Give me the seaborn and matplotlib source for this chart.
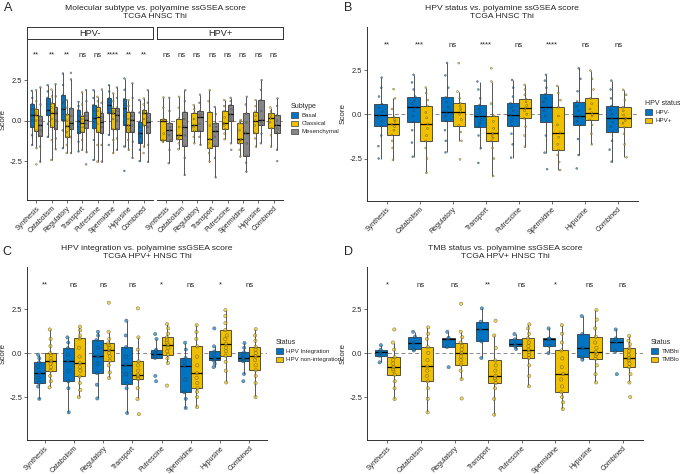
import seaborn as sns
import numpy as np
import pandas as pd
import matplotlib.pyplot as plt
from matplotlib.patches import Patch

cats = ['Synthesis', 'Catabolism', 'Regulatory', 'Transport',
        'Putrescine', 'Spermidine', 'Hypusine', 'Combined']

# ---- panel A: molecular subtype, faceted by HPV status ----
a_neg_basal = [
    [-1.5, -0.9, -0.37, 0.0, 0.35, 0.7, 1.02, 1.4, 1.84],
    [-1.0, -0.2, 0.35, 0.5, 0.66, 1.0, 1.41, 1.8, 2.19],
    [-1.7, -0.6, 0.04, 0.4, 0.7, 1.1, 1.57, 2.2, 2.91],
    [-1.9, -1.3, -0.78, -0.4, -0.04, 0.3, 0.65, 0.9, 1.16],
    [-2.43, -1.2, -0.47, -0.1, 0.14, 0.6, 0.96, 1.4, 1.88],
    [-1.5, -0.88, 0.45, 0.7, 0.95, 1.15, 1.37, 1.8, 2.19],
    [-3.1, -1.6, -0.27, 0.3, 0.76, 1.0, 1.33, 1.9, 2.6],
    [-2.5, -1.8, -1.36, -1.0, -0.78, -0.4, -0.06, 0.5, 1.27],
]
a_neg_classical = [
    [-2.7, -1.7, -0.62, 0.0, 0.35, 0.5, 0.71, 1.2, 1.88],
    [-2.43, -1.2, -0.37, 0.1, 0.49, 0.8, 1.06, 1.5, 1.92],
    [-2.0, -1.5, -1.03, -0.7, -0.33, 0.0, 0.38, 0.8, 1.27],
    [-1.8, -1.2, -0.68, -0.4, -0.12, 0.1, 0.3, 1.0, 1.75],
    [-2.53, -1.5, -0.68, -0.2, 0.25, 0.6, 0.85, 1.2, 1.47],
    [-2.0, -1.2, -0.53, 0.1, 0.45, 0.6, 0.81, 1.2, 1.68],
    [-1.8, -1.2, -0.68, -0.5, -0.3, 0.1, 0.55, 0.9, 1.27],
    [-2.0, -1.6, -0.3, 0.1, 0.45, 0.55, 0.65, 1.0, 1.37],
]
a_neg_mesen = [
    [-2.53, -1.6, -0.95, -0.6, -0.27, 0.0, 0.28, 1.0, 2.05],
    [-1.77, -1.1, -0.53, 0.0, 0.45, 0.6, 0.85, 1.5, 2.25],
    [-2.0, -1.0, -0.49, -0.3, -0.12, 0.3, 0.75, 2.55, 2.95],
    [-2.7, -1.95, -0.47, -0.2, 0.04, 0.3, 0.55, 1.2, 1.88],
    [-2.53, -1.5, -0.75, -0.4, -0.06, 0.2, 0.49, 1.1, 1.92],
    [-1.8, -1.1, -0.53, 0.0, 0.35, 0.6, 0.81, 1.4, 2.05],
    [-2.3, -1.3, -0.68, -0.3, 0.04, 0.3, 0.55, 1.4, 2.3],
    [-2.55, -1.5, -0.78, -0.4, -0.06, 0.2, 0.45, 1.1, 1.88],
]
a_pos_classical = [
    [-1.3, -1.25, -1.2, -0.8, 0.0, 0.05, 0.1, 0.8, 1.43],
    [-1.77, -1.4, -1.15, -1.0, -0.88, -0.4, 0.13, 0.8, 1.47],
    [-1.4, -1.0, -0.62, -0.4, -0.27, 0.1, 0.49, 0.7, 0.96],
    [-2.53, -2.0, -1.71, -1.4, -1.15, -0.3, 0.55, 1.2, 1.88],
    [-1.15, -0.8, -0.53, -0.3, -0.16, 0.2, 0.59, 0.9, 1.27],
    [-2.22, -1.8, -1.4, -1.25, -1.15, -0.6, -0.16, -0.05, 0.04],
    [-1.6, -1.1, -0.78, -0.3, 0.0, 0.3, 0.55, 0.9, 1.27],
    [-1.6, -0.9, -0.47, -0.1, 0.14, 0.3, 0.45, 0.6, 0.81],
]
a_pos_mesen = [
    [-2.63, -1.8, -1.23, -0.9, -0.58, -0.4, -0.16, 0.6, 1.41],
    [-3.35, -2.3, -1.56, -0.9, -0.37, 0.1, 0.55, 1.2, 1.88],
    [-1.5, -1.0, -0.62, -0.2, 0.25, 0.4, 0.6, 1.1, 1.6],
    [-3.5, -2.3, -1.56, -1.0, -0.62, -0.4, -0.16, 0.4, 0.85],
    [-1.8, -1.4, 0.0, 0.2, 0.4, 0.7, 0.97, 1.2, 1.41],
    [-3.15, -2.6, -2.18, -1.4, -0.74, -0.1, 0.45, 1.0, 1.47],
    [-1.4, -0.8, -0.27, -0.1, 0.04, 0.6, 1.27, 1.9, 2.5],
    [-2.5, -1.8, -0.74, -0.5, -0.27, 0.0, 0.34, 0.9, 1.37],
]
a_neg_sig = ['**', '**', '**', 'ns', 'ns', '****', '**', '**']
a_pos_sig = ['ns'] * 8

# ---- panel B: HPV status ----
b_neg = [
    [-2.5, -1.8, -1.2, -0.66, -0.4, -0.2, -0.04, 0.15, 0.35, 0.58, 1.0, 1.5, 2.07],
    [-2.4, -1.6, -0.9, -0.43, -0.1, 0.2, 0.43, 0.6, 0.8, 1.0, 1.4, 1.8, 2.23],
    [-2.15, -1.5, -0.9, -0.38, -0.15, 0.0, 0.15, 0.4, 0.7, 0.95, 1.5, 2.2, 2.9],
    [-2.75, -1.92, -1.2, -0.7, -0.5, -0.3, -0.08, 0.1, 0.3, 0.53, 0.9, 1.4, 1.85],
    [-2.45, -1.7, -1.1, -0.66, -0.4, -0.2, -0.04, 0.2, 0.4, 0.62, 1.0, 1.5, 1.94],
    [-3.1, -2.17, -1.2, -0.42, -0.1, 0.2, 0.43, 0.7, 0.9, 1.13, 1.5, 1.9, 2.23],
    [-3.06, -2.3, -1.4, -0.6, -0.4, -0.2, -0.08, 0.2, 0.45, 0.72, 1.3, 2.0, 2.6],
    [-2.68, -2.0, -1.5, -0.98, -0.7, -0.45, -0.23, 0.0, 0.25, 0.47, 0.9, 1.4, 1.9],
]
b_pos = [
    [-2.58, -1.9, -1.5, -1.17, -0.9, -0.7, -0.57, -0.4, -0.3, -0.15, 0.3, 0.9, 1.42],
    [-3.3, -2.5, -1.9, -1.51, -1.2, -0.8, -0.55, -0.2, 0.1, 0.47, 0.8, 1.2, 1.51],
    [-2.55, -1.5, -1.0, -0.64, -0.3, 0.0, 0.15, 0.3, 0.45, 0.62, 0.9, 1.28, 2.89],
    [-3.49, -2.5, -1.9, -1.51, -1.35, -1.2, -1.08, -0.8, -0.4, -0.1, 0.6, 1.85, 2.6],
    [-1.83, -1.2, -0.7, -0.23, 0.0, 0.2, 0.34, 0.5, 0.7, 0.87, 1.1, 1.4, 1.66],
    [-3.15, -2.7, -2.3, -2.02, -1.7, -1.3, -1.04, -0.6, -0.1, 0.4, 0.8, 1.2, 1.6],
    [-1.7, -1.1, -0.6, -0.32, -0.1, 0.0, 0.09, 0.3, 0.6, 0.9, 1.4, 2.0, 2.47],
    [-2.43, -1.7, -1.1, -0.74, -0.5, -0.35, -0.23, -0.05, 0.2, 0.4, 0.8, 1.1, 1.38],
]
b_sig = ['**', '***', 'ns', '****', 'ns', '****', 'ns', 'ns']

# ---- panel C: HPV integration ----
c_int = [
    [-2.6, -1.9, -1.7, -1.4, -1.14, -0.8, -0.53, -0.3, -0.1],
    [-3.37, -2.0, -1.61, -1.0, -0.47, -0.1, 0.28, 0.6, 0.89],
    [-2.58, -1.8, -1.14, -0.6, -0.19, 0.3, 0.74, 1.0, 1.21],
    [-3.41, -2.0, -1.74, -1.2, -0.66, -0.2, 0.34, 1.0, 1.84],
    [-1.6, -1.3, -0.28, -0.15, -0.04, 0.1, 0.19, 0.8, 1.08],
    [-3.12, -2.6, -2.23, -1.5, -0.72, -0.5, -0.28, 0.2, 0.59],
    [-0.8, -0.6, -0.42, -0.35, -0.28, -0.1, 0.09, 0.38, 1.4],
    [-1.6, -1.19, -0.47, -0.35, -0.28, -0.1, 0.04, 0.3, 0.57],
]
c_nonint = [
    [-1.95, -1.6, -1.3, -1.0, -0.8, -0.6, -0.47, -0.3, -0.1, 0.0, 0.4, 0.8, 1.34],
    [-2.5, -2.1, -1.7, -1.33, -1.0, -0.8, -0.57, -0.2, 0.3, 0.83, 1.0, 1.3, 1.5],
    [-1.42, -1.1, -0.7, -0.44, -0.2, 0.0, 0.19, 0.3, 0.45, 0.55, 0.8, 1.21, 2.86],
    [-3.47, -2.61, -2.0, -1.48, -1.4, -1.3, -1.23, -1.0, -0.7, -0.47, 0.2, 0.89, 2.54],
    [-1.85, -0.57, -0.3, -0.09, 0.1, 0.3, 0.47, 0.6, 0.75, 0.89, 1.1, 1.4, 1.65],
    [-3.07, -2.5, -2.2, -1.99, -1.7, -1.4, -1.14, -0.7, -0.2, 0.38, 0.8, 1.2, 1.59],
    [-1.67, -1.0, -0.5, -0.15, 0.1, 0.3, 0.53, 0.8, 1.0, 1.31, 1.7, 2.1, 2.44],
    [-2.5, -1.7, -1.3, -0.98, -0.7, -0.4, -0.19, 0.0, 0.2, 0.36, 0.7, 1.0, 1.36],
]
c_sig = ['**', 'ns', 'ns', 'ns', '*', 'ns', '*', 'ns']

# ---- panel D: TMB status ----
d_hi = [
    [-0.53, -0.15, 0.04, 0.19, 0.45],
    [0.15, 0.23, 0.55, 0.93, 1.21],
    [-0.8, 0.34, 0.78, 0.87, 1.21],
    [-0.28, 0.66, 1.34, 1.78, 2.54],
    [0.23, 0.38, 0.49, 0.78, 1.08],
    [0.0, 0.42, 0.8, 0.83, 1.4],
    [-0.38, -0.23, 0.28, 1.08, 2.1],
    [-1.2, 0.09, 0.64, 0.83, 1.34],
]
d_lo = [
    [-2.61, -2.0, -1.6, -1.23, -1.0, -0.9, -0.8, -0.6, -0.4, -0.23, 0.2, 0.6, 1.34],
    [-3.37, -2.6, -2.0, -1.61, -1.3, -1.0, -0.76, -0.4, 0.0, 0.34, 0.8, 1.1, 1.46],
    [-2.58, -1.48, -1.0, -0.66, -0.4, -0.2, 0.0, 0.2, 0.4, 0.6, 0.9, 1.21, 2.8],
    [-3.5, -2.6, -2.0, -1.7, -1.5, -1.4, -1.29, -1.0, -0.7, -0.42, 0.3, 1.0, 1.84],
    [-1.89, -1.3, -0.7, -0.28, -0.1, 0.05, 0.19, 0.4, 0.6, 0.83, 1.1, 1.4, 1.63],
    [-3.18, -2.8, -2.5, -2.23, -1.9, -1.5, -1.19, -0.8, -0.3, 0.15, 0.6, 1.1, 1.59],
    [-1.67, -1.2, -0.7, -0.32, -0.15, -0.05, 0.06, 0.3, 0.6, 0.93, 1.4, 1.9, 2.44],
    [-2.5, -1.67, -1.2, -0.8, -0.6, -0.4, -0.28, -0.1, 0.1, 0.28, 0.5, 0.7, 0.97],
]
d_sig = ['*', 'ns', 'ns', '**', 'ns', '*', 'ns', 'ns']

BLUE, YELLOW, GREY = '#0073C2', '#EFC000', '#868686'

sns.set_style('ticks')
plt.rcParams['font.family'] = ['Liberation Sans', 'DejaVu Sans']
plt.rcParams['axes.linewidth'] = 0.7
plt.rcParams['axes.edgecolor'] = '#333333'

W, H = 680, 474
fig = plt.figure(figsize=(W / 100, H / 100), dpi=100)


def px_axes(l, t, r, b):
    return fig.add_axes([l / W, 1 - b / H, (r - l) / W, (b - t) / H])


def long_df(groups, names):
    rows = []
    for name, lists in zip(names, groups):
        for cat, vals in zip(cats, lists):
            for v in vals:
                rows.append((cat, name, v))
    return pd.DataFrame(rows, columns=['Pathway', 'Group', 'Score'])


def draw(ax, groups, names, colors, ylim, sig, sig_y, pt_size, jitter, left=True):
    df = long_df(groups, names)
    pal = dict(zip(names, colors))
    ax.axhline(0, color='#8a8a8a', lw=0.7, ls=(0, (4, 3)), zorder=0)
    sns.boxplot(data=df, x='Pathway', y='Score', hue='Group', order=cats,
                hue_order=names, palette=pal, width=0.75, whis=1.5,
                showfliers=False, showcaps=False, linewidth=0.6,
                linecolor='#3a3a3a', saturation=1,
                medianprops=dict(color='black', linewidth=0.9),
                legend=False, ax=ax)
    sns.stripplot(data=df, x='Pathway', y='Score', hue='Group', order=cats,
                  hue_order=names, palette=pal, dodge=True, jitter=jitter,
                  size=pt_size, linewidth=0.35, edgecolor='#333333',
                  alpha=0.65, legend=False, ax=ax)
    ax.set_xlim(-0.6, 7.6)
    ax.set_ylim(*ylim)
    ax.set_yticks([-2.5, 0, 2.5])
    ax.set_yticklabels(['-2.5', '0.0', '2.5'])
    ax.set_xlabel('')
    ax.set_ylabel('Score' if left else '', fontsize=5.8, labelpad=2)
    sns.despine(ax=ax)
    ax.tick_params(axis='both', length=2, width=0.5, pad=1.5, labelsize=5.0,
                   color='#333333')
    ax.tick_params(axis='y', labelsize=5.4)
    ax.set_xticks(range(len(cats)))
    ax.set_xticklabels(cats, rotation=45, ha='right', va='top',
                       rotation_mode='anchor')
    if not left:
        ax.spines['left'].set_visible(False)
        ax.tick_params(axis='y', left=False, labelleft=False)
    for i, s in enumerate(sig):
        ax.text(i, sig_y, s, ha='center', va='center', fontsize=5.5, color='#222222')


def legend(ax, x, y, title, labels, colors):
    handles = [Patch(facecolor=c, edgecolor='#3a3a3a', linewidth=0.5) for c in colors]
    ax.legend(handles, labels, title=title, loc='upper left',
              bbox_to_anchor=(x / W, 1 - y / H), bbox_transform=fig.transFigure,
              frameon=False, fontsize=4.4, title_fontsize=5.0, borderpad=0,
              borderaxespad=0, handlelength=1.2, handleheight=0.9,
              handletextpad=0.5, labelspacing=0.4, alignment='left')


def title(cx, top, text):
    fig.text(cx / W, 1 - top / H, text, ha='center', va='top', fontsize=6.1,
             linespacing=1.15)


# panel A
axa1 = px_axes(27, 39, 153, 200)
axa2 = px_axes(157, 39, 283, 200)
ylim_a = (-4.9, 5.04)
draw(axa1, [a_neg_basal, a_neg_classical, a_neg_mesen],
     ['Basal', 'Classical', 'Mesenchymal'], [BLUE, YELLOW, GREY],
     ylim_a, a_neg_sig, 4.05, 1.3, 0.07)
draw(axa2, [a_pos_classical, a_pos_mesen], ['Classical', 'Mesenchymal'],
     [YELLOW, GREY], ylim_a, a_pos_sig, 4.05, 1.3, 0.1, left=False)
for (l, r), lab in zip([(27, 153), (157, 283)], ['HPV-', 'HPV+']):
    sax = px_axes(l, 27, r, 39)
    sax.set_xticks([])
    sax.set_yticks([])
    for sp in sax.spines.values():
        sp.set_color('#333333')
        sp.set_linewidth(0.7)
    sax.text(0.5, 0.5, lab, ha='center', va='center', fontsize=6.6,
             transform=sax.transAxes)
legend(axa1, 291, 103, 'Subtype', ['Basal', 'Classical', 'Mesenchymal'],
       [BLUE, YELLOW, GREY])
title(155, 5, 'Molecular subtype vs. polyamine ssGSEA score\nTCGA HNSC Thi')
fig.text(4 / W, 1 - 2 / H, 'A', ha='left', va='top', fontsize=9)

# panel B
axb = px_axes(367, 27, 638, 201)
draw(axb, [b_neg, b_pos], ['HPV-', 'HPV+'], [BLUE, YELLOW],
     (-4.9, 4.93), b_sig, 3.9, 1.4, 0.12)
legend(axb, 645, 100, 'HPV status', ['HPV-', 'HPV+'], [BLUE, YELLOW])
title(502, 5, 'HPV status vs. polyamine ssGSEA score\nTCGA HNSC Thi')
fig.text(344 / W, 1 - 2 / H, 'B', ha='left', va='top', fontsize=9)

# panel C
axc = px_axes(27, 267, 267, 440)
draw(axc, [c_int, c_nonint], ['HPV Integration', 'HPV non-integration'],
     [BLUE, YELLOW], (-4.94, 4.89), c_sig, 3.86, 2.4, 0.06)
legend(axc, 276, 339, 'Status', ['HPV Integration', 'HPV non-integration'],
       [BLUE, YELLOW])
title(147, 245, 'HPV integration vs. polyamine ssGSEA score\nTCGA HPV+ HNSC Thi')
fig.text(2 / W, 1 - 246 / H, 'C', ha='left', va='top', fontsize=9)

# panel D
axd = px_axes(367, 267, 643, 440)
draw(axd, [d_hi, d_lo], ['TMBhi', 'TMBlo'], [BLUE, YELLOW],
     (-4.94, 4.89), d_sig, 3.86, 2.4, 0.06)
legend(axd, 651, 339, 'Status', ['TMBhi', 'TMBlo'], [BLUE, YELLOW])
title(505, 245, 'TMB status vs. polyamine ssGSEA score\nTCGA HPV+ HNSC Thi')
fig.text(344 / W, 1 - 246 / H, 'D', ha='left', va='top', fontsize=9)

fig.savefig('out.png', dpi=100)
